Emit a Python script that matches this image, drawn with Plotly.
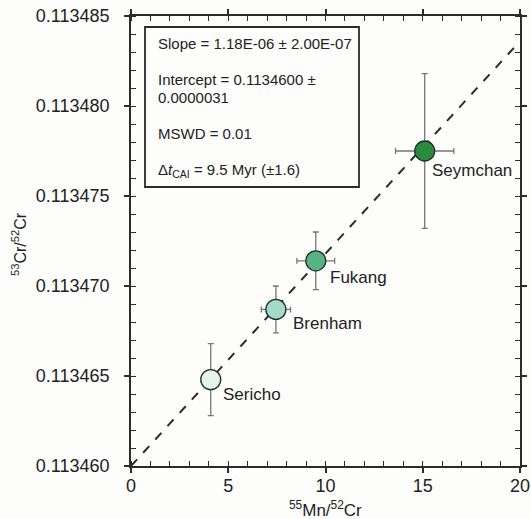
import plotly.graph_objects as go

# ---- data ----
names = ["Sericho", "Brenham", "Fukang", "Seymchan"]
mn_cr = [4.1, 7.45, 9.5, 15.1]
mn_cr_err = [0.3, 0.75, 0.97, 1.5]
cr_ratio = [0.1134648, 0.1134687, 0.1134714, 0.1134775]
cr_ratio_err = [0.0000020, 0.0000013, 0.0000016, 0.0000043]
colors = ["#e4f3ec", "#a3dacb", "#56b383", "#2c8a3e"]
label_dx = [10, 15, 12, 5]
label_dy = [-15, -14, -17, -19]

slope = 1.18e-06
intercept = 0.11346
x_line = [0, 20]

box_lines = [
    "Slope = 1.18E-06 ± 2.00E-07",
    "Intercept = 0.1134600 ±",
    "0.0000031",
    "MSWD = 0.01",
    "Δ<i>t</i><sub>CAI</sub> = 9.5 Myr (±1.6)",
]
box_line_py = [43, 79, 98, 133, 170]

FONT = "Liberation Sans, Arial, sans-serif"

fig = go.Figure()

# regression line
fig.add_trace(go.Scatter(
    x=x_line, y=[intercept + slope * v for v in x_line],
    mode="lines", line=dict(color="#2b2b2b", width=2, dash="dash"),
    hoverinfo="skip", showlegend=False,
))

# data points with error bars
fig.add_trace(go.Scatter(
    x=mn_cr, y=cr_ratio, mode="markers",
    error_x=dict(type="data", array=mn_cr_err, color="#77776f", thickness=1.3, width=3),
    error_y=dict(type="data", array=cr_ratio_err, color="#77776f", thickness=1.3, width=3),
    marker=dict(size=20, color=colors, line=dict(color="#1f2f24", width=1.3)),
    showlegend=False,
))

annotations = []
for n, x, y, dx, dy in zip(names, mn_cr, cr_ratio, label_dx, label_dy):
    annotations.append(dict(
        x=x, y=y, xref="x", yref="y", text=n, showarrow=False,
        xanchor="left", yanchor="middle", xshift=dx, yshift=dy,
        font=dict(family=FONT, size=17, color="#222"),
    ))

# plot area in pixels: x 131..520, y 16..466
L, R, T, B = 131, 520, 16, 466
def px(xp):
    return (xp - L) / (R - L)
def py(yp):
    return (B - yp) / (B - T)

for txt, yp in zip(box_lines, box_line_py):
    annotations.append(dict(
        x=px(156), y=py(yp), xref="paper", yref="paper", text=txt,
        showarrow=False, xanchor="left", yanchor="middle",
        font=dict(family=FONT, size=15, color="#222"),
    ))

# axis titles
annotations.append(dict(
    x=px(325), y=py(509), xref="paper", yref="paper",
    text="<sup>55</sup>Mn/<sup>52</sup>Cr", showarrow=False,
    xanchor="center", yanchor="middle",
    font=dict(family=FONT, size=17, color="#222"),
))
annotations.append(dict(
    x=px(19), y=py(244), xref="paper", yref="paper",
    text="<sup>53</sup>Cr/<sup>52</sup>Cr", showarrow=False, textangle=-90,
    xanchor="center", yanchor="middle",
    font=dict(family=FONT, size=16, color="#222"),
))

fig.add_shape(type="rect", xref="paper", yref="paper",
              x0=px(145), x1=px(359), y0=py(187), y1=py(27),
              line=dict(color="#2b2b2b", width=1.8), fillcolor="rgba(0,0,0,0)")

fig.update_layout(
    width=531, height=519,
    margin=dict(l=L, r=531 - R, t=T, b=519 - B),
    paper_bgcolor="#fdfdfb", plot_bgcolor="#fdfdfb",
    font=dict(family=FONT, color="#222"),
    annotations=annotations,
)

fig.update_xaxes(
    range=[0, 20], tickvals=[0, 5, 10, 15, 20], automargin=False,
    showgrid=False, zeroline=False,
    showline=True, linecolor="#2b2b2b", linewidth=1.8, mirror="ticks",
    ticks="outside", ticklen=5, tickwidth=1.5, tickcolor="#2b2b2b",
    minor=dict(dtick=1, ticks="inside", ticklen=5, tickwidth=1.2, tickcolor="#2b2b2b", showgrid=False),
    tickfont=dict(size=18, family=FONT, color="#222"),
    ticklabelstandoff=-3,
)
fig.update_yaxes(
    range=[0.11346, 0.113485], tickvals=[0.11346, 0.113465, 0.11347, 0.113475, 0.11348, 0.113485],
    tickformat=".6f", automargin=False,
    showgrid=False, zeroline=False,
    showline=True, linecolor="#2b2b2b", linewidth=1.8, mirror="ticks",
    ticks="outside", ticklen=5, tickwidth=1.5, tickcolor="#2b2b2b",
    minor=dict(dtick=0.000001, ticks="inside", ticklen=5, tickwidth=1.2, tickcolor="#2b2b2b", showgrid=False),
    tickfont=dict(size=18, family=FONT, color="#222"),
    ticklabelstandoff=11,
)

fig.write_html(
    "out.html",
    config={"displayModeBar": False},
    post_script="document.body.style.margin='0';document.body.style.padding='0';document.body.style.overflow='hidden';",
)
